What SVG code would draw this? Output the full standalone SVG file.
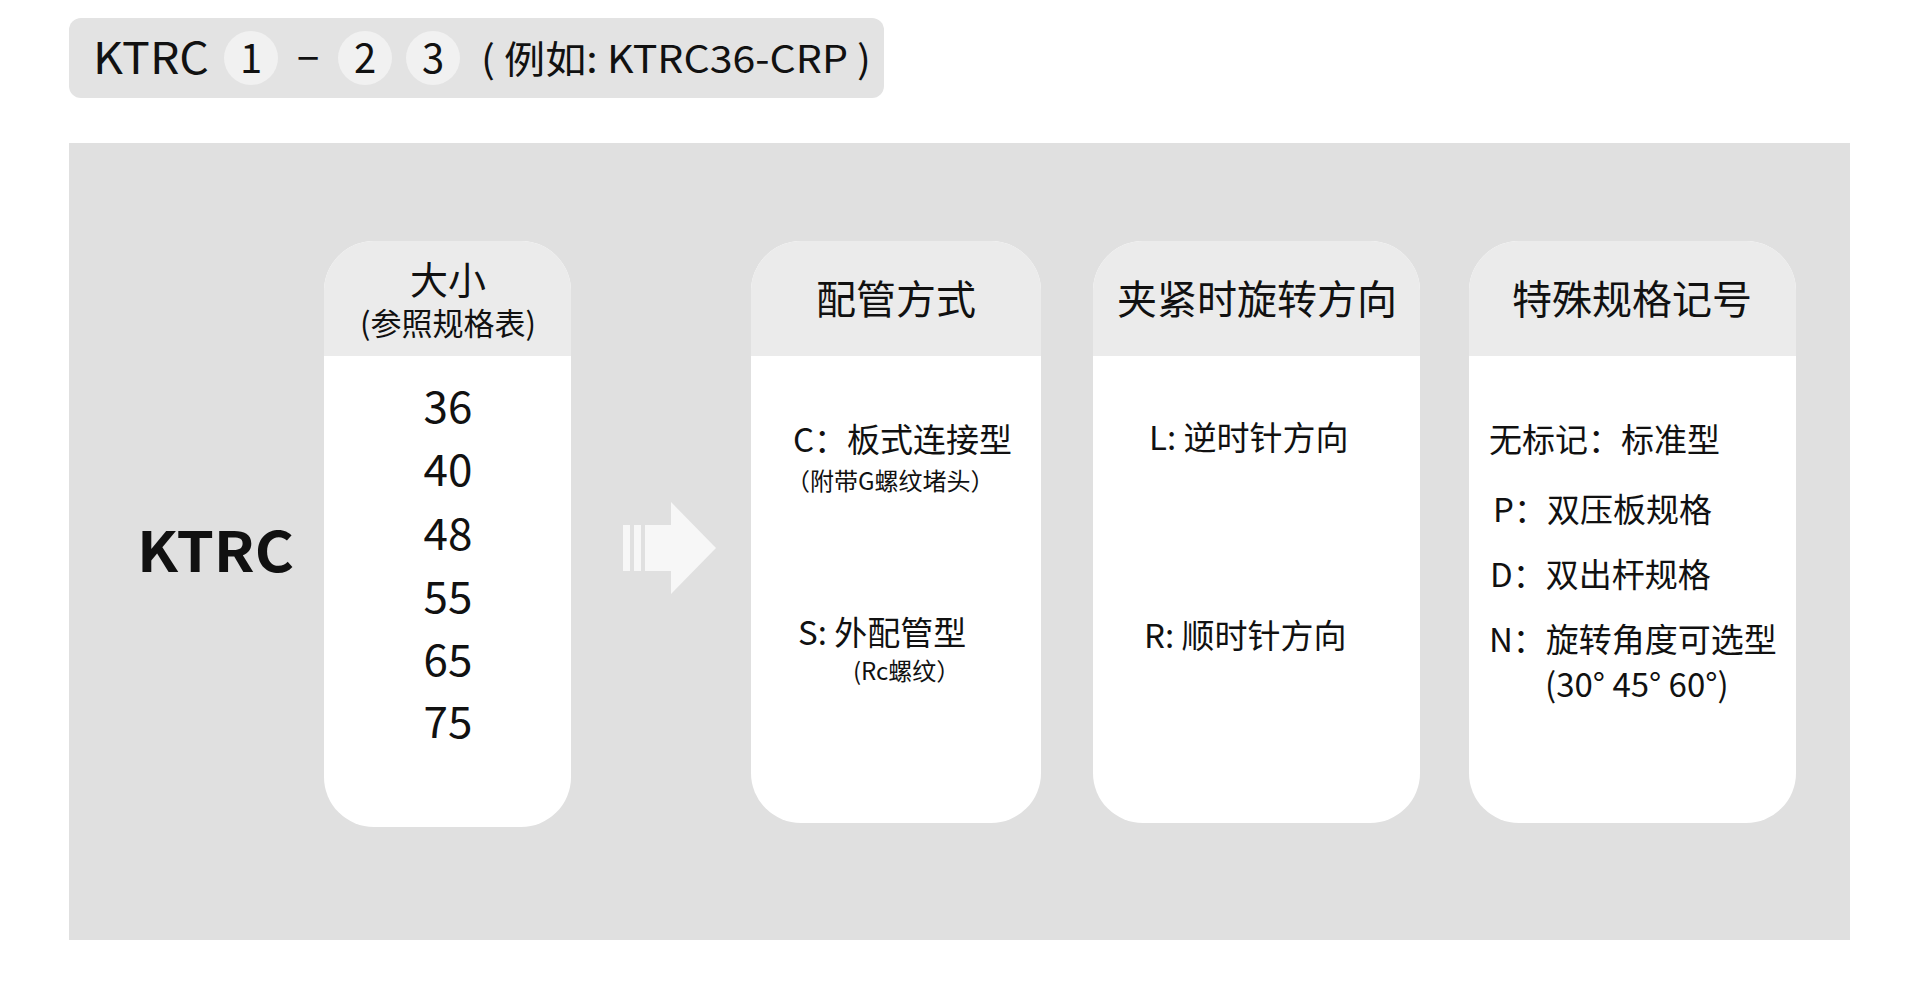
<svg xmlns="http://www.w3.org/2000/svg" width="1920" height="983" viewBox="0 0 1920 983">
<style>
text{font-family:"Noto Sans CJK SC","Liberation Sans",sans-serif;fill:#111}
.hd{fill:#ebebeb}
.c{text-anchor:middle}
.t{font-size:33px}
.s{font-size:24px}
.h{font-size:40px;text-anchor:middle}
.n{font-size:44px;text-anchor:middle}
</style>
<rect width="1920" height="983" fill="#fff"/>
<g id="code">
<rect x="69" y="18" width="815" height="80" rx="12" fill="#e3e3e3"/>
<circle cx="251" cy="58" r="27" fill="#f1f1f1"/>
<circle cx="365" cy="58" r="27" fill="#f1f1f1"/>
<circle cx="433" cy="58" r="27" fill="#f1f1f1"/>
<text x="93" y="74" font-size="44" textLength="116" lengthAdjust="spacingAndGlyphs">KTRC</text>
<text x="251" y="73" font-size="40" class="c">1</text>
<text x="308" y="73" font-size="40" class="c">−</text>
<text x="365" y="73" font-size="40" class="c">2</text>
<text x="433" y="73" font-size="40" class="c">3</text>
<text x="481" y="73" font-size="38" textLength="390" lengthAdjust="spacingAndGlyphs">( 例如: KTRC36-CRP )</text>
</g>
<rect x="69" y="143" width="1781" height="797" fill="#e0e0e0"/>
<g id="ktrc"><text x="137" y="572" font-size="56" font-weight="bold" textLength="157" lengthAdjust="spacingAndGlyphs">KTRC</text></g>
<g id="arrow" fill="#f7f7f7">
<rect x="623" y="525" width="7" height="46"/>
<rect x="634" y="525" width="7" height="46"/>
<rect x="645" y="525" width="27" height="46"/>
<polygon points="671,502 716,548 671,594"/>
</g>
<g id="size">
<rect x="324" y="241" width="247" height="586" rx="50" fill="#fff"/>
<path class="hd" d="M324,356 V291 A50,50 0 0 1 374,241 H521 A50,50 0 0 1 571,291 V356 Z"/>
<text x="448" y="294" font-size="38" class="c">大小</text>
<text x="448" y="335" font-size="31" class="c">(参照规格表)</text>
<text x="448" y="423" class="n">36</text>
<text x="448" y="486" class="n">40</text>
<text x="448" y="550" class="n">48</text>
<text x="448" y="613" class="n">55</text>
<text x="448" y="676" class="n">65</text>
<text x="448" y="738" class="n">75</text>
</g>
<g id="piping">
<rect x="751" y="241" width="290" height="582" rx="50" fill="#fff"/>
<path class="hd" d="M751,356 V291 A50,50 0 0 1 801,241 H991 A50,50 0 0 1 1041,291 V356 Z"/>
<text x="896" y="314" class="h">配管方式</text>
<text x="793" y="452" class="t">C：板式连接型</text>
<text x="786" y="490" class="s">（附带G螺纹堵头）</text>
<text x="798" y="645" class="t">S: 外配管型</text>
<text x="853" y="680" class="s">(Rc螺纹）</text>
</g>
<g id="rotation">
<rect x="1093" y="241" width="327" height="582" rx="50" fill="#fff"/>
<path class="hd" d="M1093,356 V291 A50,50 0 0 1 1143,241 H1370 A50,50 0 0 1 1420,291 V356 Z"/>
<text x="1257" y="314" class="h">夹紧时旋转方向</text>
<text x="1149" y="450" class="t">L: 逆时针方向</text>
<text x="1144" y="648" class="t">R: 顺时针方向</text>
</g>
<g id="special">
<rect x="1469" y="241" width="327" height="582" rx="50" fill="#fff"/>
<path class="hd" d="M1469,356 V291 A50,50 0 0 1 1519,241 H1746 A50,50 0 0 1 1796,291 V356 Z"/>
<text x="1632" y="314" class="h">特殊规格记号</text>
<text x="1489" y="452" class="t">无标记：标准型</text>
<text x="1493" y="522" class="t">P：双压板规格</text>
<text x="1490" y="587" class="t">D：双出杆规格</text>
<text x="1489" y="652" class="t">N：旋转角度可选型</text>
<text x="1545" y="697" class="t">(30°  45°  60°)</text>
</g>
<g id="connectors"/>
</svg>
